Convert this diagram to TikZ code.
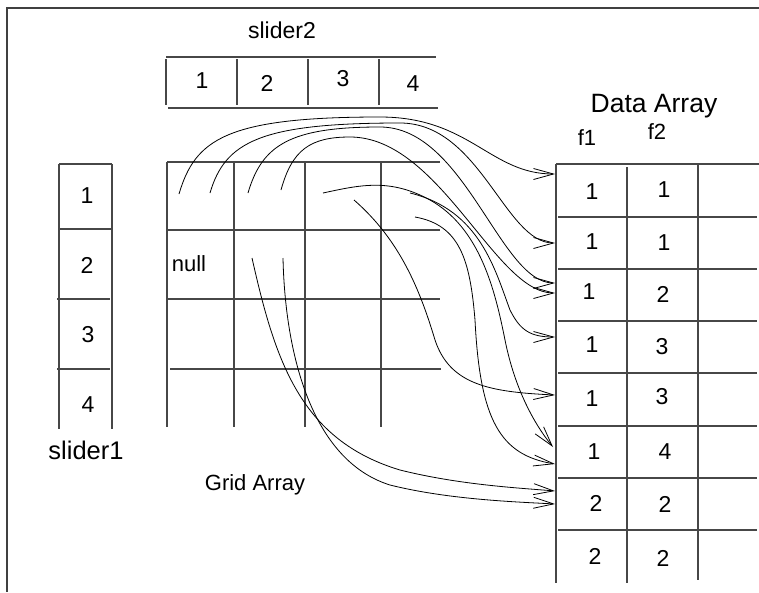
\documentclass[tikz,border=0pt]{standalone}
\usepackage{fontspec}
\setmainfont{Liberation Sans}
\usetikzlibrary{arrows.meta}
\begin{document}
\begin{tikzpicture}[x=1pt,y=-1pt,
  tbl/.style={line width=1.1pt, draw=black!72},
  frame/.style={line width=1.3pt, draw=black!75},
  lbl/.style={font=\fontsize{22}{25}\selectfont, inner sep=0pt, anchor=base},
  dig/.style={lbl, font=\fontsize{23}{26}\selectfont},
  big/.style={lbl, font=\fontsize{25.5}{28}\selectfont},
  link/.style={line width=0.8pt, draw=black, -{Straight Barb[length=20pt,width=11pt,line width=0.8pt]}}]
\useasboundingbox (0,0) rectangle (759,592);
% outer frame (top and left only visible)
\draw[frame] (6,8) -- (759,8);
\draw[frame] (7,8) -- (7,592);

% slider2
\node[lbl, font=\fontsize{23}{26}\selectfont] (t-slider2) at (282,38) {slider2};
\draw[tbl] (166,57) -- (436,57);
\draw[tbl] (168,108) -- (438,108);
\foreach \x in {166,237,308,379} \draw[tbl] (\x,59) -- (\x,105);
\node[dig] (h1) at (202,88) {1};
\node[dig] (h2) at (267,91) {2};
\node[dig] (h3) at (343,86) {3};
\node[dig] (h4) at (413,91) {4};

% slider1
\draw[tbl] (59,164) -- (112,164);
\draw[tbl] (59,229) -- (112,229);
\draw[tbl] (57,299) -- (110,299);
\draw[tbl] (57,369) -- (110,369);
\draw[tbl] (59,164) -- (59,429);
\draw[tbl] (112,164) -- (112,429);
\node[dig] (v1) at (87,203) {1};
\node[dig] (v2) at (87,273) {2};
\node[dig] (v3) at (88,342) {3};
\node[dig] (v4) at (88,412) {4};
\node[big] (t-slider1) at (86,459) {slider1};

% grid array
\foreach \y in {162,230,299} \draw[tbl] (167,\y) -- (440,\y);
\draw[tbl] (170,369) -- (441,369);
\foreach \x in {167,234,305,381} \draw[tbl] (\x,162) -- (\x,427);
\node[lbl] (null) at (189,271) {null};
\node[lbl] (t-grid) at (255,490) {Grid Array};

% data array
\node[big, font=\fontsize{26.5}{29}\selectfont] (t-data) at (654,112) {Data Array};
\node[lbl] (f1) at (587,145) {f1};
\node[lbl] (f2) at (657,139) {f2};
\draw[tbl] (556,164) -- (759,164);
\foreach \y in {217,269,321,373,426,478,530} \draw[tbl] (558,\y) -- (757,\y);
\draw[tbl] (556,164) -- (556,583);
\draw[tbl] (627,167) -- (627,583);
\draw[tbl] (698,164) -- (698,580);
\node[dig] (d11) at (592,199) {1}; \node[dig] (d12) at (664,197) {1};
\node[dig] (d21) at (592,249) {1}; \node[dig] (d22) at (664,250) {1};
\node[dig] (d31) at (589,299) {1}; \node[dig] (d32) at (663,302) {2};
\node[dig] (d41) at (592,352) {1}; \node[dig] (d42) at (662,354) {3};
\node[dig] (d51) at (592,406) {1}; \node[dig] (d52) at (662,404) {3};
\node[dig] (d61) at (594,459) {1}; \node[dig] (d62) at (665,459) {4};
\node[dig] (d71) at (596,511) {2}; \node[dig] (d72) at (665,512) {2};
\node[dig] (d81) at (595,564) {2}; \node[dig] (d82) at (663,566) {2};

% connector end points
\coordinate (s1) at (179,194);  \coordinate (e1) at (555,174);
\coordinate (s2) at (210,193);  \coordinate (e2) at (555,243);
\coordinate (s3) at (248,193);  \coordinate (e3) at (555,283);
\coordinate (s4) at (281,190);  \coordinate (e4) at (555,293);
\coordinate (s5) at (323,193);  \coordinate (e7) at (553,447);
\coordinate (s6) at (354,200);  \coordinate (e6) at (555,395);
\coordinate (s7) at (410,193);  \coordinate (e5) at (555,337);
\coordinate (s8) at (415,217);  \coordinate (e8) at (555,464);
\coordinate (s9) at (252,258);  \coordinate (e9) at (555,491);
\coordinate (s10) at (283,258); \coordinate (e10) at (555,504);

\draw[link] (s1) .. controls (195,140) and (225,117) .. (380,117) .. controls (470,117) and (490,174) .. (e1);
\draw[link] (s2) .. controls (225,142) and (260,123) .. (400,123) .. controls (480,123) and (505,243) .. (e2);
\draw[link] (s3) .. controls (262,145) and (290,127) .. (380,127) .. controls (465,127) and (500,283) .. (e3);
\draw[link] (s4) .. controls (292,150) and (310,137) .. (350,137) .. controls (440,137) and (495,293) .. (e4);
\draw[link] (s5) .. controls (360,185) and (390,178) .. (430,200) .. controls (480,228) and (495,290) .. (505,340) .. controls (515,390) and (535,425) .. (e7);
\draw[link] (s6) .. controls (400,240) and (420,290) .. (435,340) .. controls (450,385) and (490,392) .. (e6);
\draw[link] (s7) .. controls (480,210) and (495,270) .. (510,310) .. controls (520,330) and (530,337) .. (e5);
\draw[link] (s8) .. controls (460,225) and (470,260) .. (475,320) .. controls (480,420) and (500,455) .. (e8);
\draw[link] (s9) .. controls (275,360) and (300,440) .. (400,470) .. controls (460,485) and (520,488) .. (e9);
\draw[link] (s10) .. controls (285,350) and (310,460) .. (390,485) .. controls (450,500) and (520,502) .. (e10);
\end{tikzpicture}
\end{document}
